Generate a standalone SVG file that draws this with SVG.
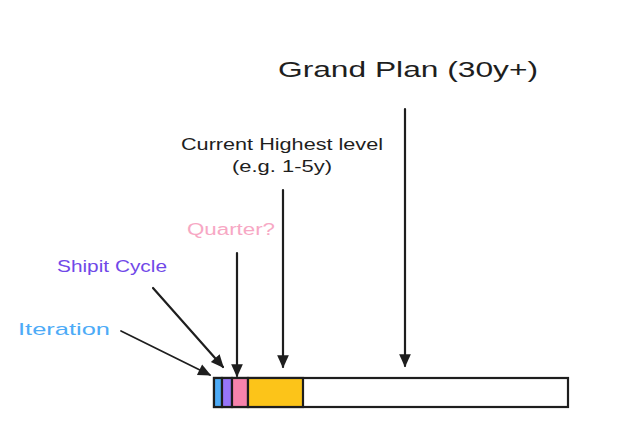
<svg xmlns="http://www.w3.org/2000/svg" width="628" height="439" viewBox="0 0 628 439">
<defs>
<style>
.t{font-family:"Comic Sans MS","Liberation Sans",sans-serif;}
.ln{stroke:#1e1e1e;stroke-width:2.2;fill:none;stroke-linecap:round;}
.seg{stroke:#1e1e1e;stroke-width:2.2;}
</style>
<marker id="ah" viewBox="0 0 10 10" refX="9" refY="5" markerWidth="14" markerHeight="13" markerUnits="userSpaceOnUse" orient="auto">
<path d="M0,0.5 L10,5 L0,9.5 z" fill="#1e1e1e"/>
</marker>
</defs>
<rect width="628" height="439" fill="#ffffff"/>
<g id="bar">
<rect x="214" y="378" width="354" height="29" fill="#ffffff" class="seg"/>
<rect x="214" y="378" width="8" height="29" fill="#4dabf7" class="seg"/>
<rect x="222" y="378" width="10" height="29" fill="#9775fa" class="seg"/>
<rect x="232" y="378" width="16" height="29" fill="#f783ac" class="seg"/>
<rect x="248" y="378" width="55" height="29" fill="#fcc419" class="seg"/>
</g>
<g id="grand-plan">
<text class="t" x="408" y="77" font-size="22" text-anchor="middle" fill="#1e1e1e" textLength="260" lengthAdjust="spacingAndGlyphs">Grand Plan (30y+)</text>
</g>
<g id="current-highest">
<text class="t" x="282" y="150" font-size="17" text-anchor="middle" fill="#1e1e1e" textLength="202" lengthAdjust="spacingAndGlyphs">Current Highest level</text>
<text class="t" x="282" y="172" font-size="17" text-anchor="middle" fill="#1e1e1e" textLength="100" lengthAdjust="spacingAndGlyphs">(e.g. 1-5y)</text>
</g>
<g id="quarter">
<text class="t" x="231" y="235" font-size="16" text-anchor="middle" fill="#f7a8c4" textLength="88" lengthAdjust="spacingAndGlyphs">Quarter?</text>
</g>
<g id="shipit">
<text class="t" x="112" y="272" font-size="17" text-anchor="middle" fill="#7048e8" textLength="110" lengthAdjust="spacingAndGlyphs">Shipit Cycle</text>
</g>
<g id="iteration">
<text class="t" x="64" y="335" font-size="17" text-anchor="middle" fill="#4dabf7" textLength="92" lengthAdjust="spacingAndGlyphs">Iteration</text>
</g>
<g id="connectors">
<path class="ln" d="M405,109 L405,366" marker-end="url(#ah)"/>
<path class="ln" d="M283,190 L283,367" marker-end="url(#ah)"/>
<path class="ln" d="M237,253 L237,376" marker-end="url(#ah)"/>
<path class="ln" d="M153,288 L223,367" marker-end="url(#ah)"/>
<path class="ln" d="M121,331 L210,375" marker-end="url(#ah)" style="stroke-width:1.7"/>
</g>
</svg>
